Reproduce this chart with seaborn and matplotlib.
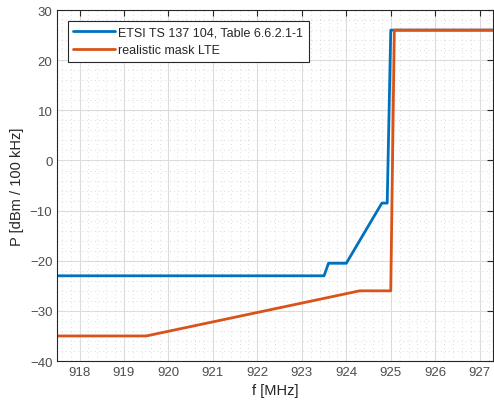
import numpy as np
import pandas as pd
import matplotlib
matplotlib.use("Agg")
import matplotlib.pyplot as plt
from matplotlib.ticker import MultipleLocator
import seaborn as sns

# ETSI TS 137 104 mask (blue)
etsi_f = [917.5, 923.5, 923.6, 924.0, 924.8, 924.92, 925.0, 927.3]
etsi_p = [-23.0, -23.0, -20.5, -20.5, -8.5, -8.5, 26.0, 26.0]

# realistic LTE mask (orange)
lte_f = [917.5, 919.5, 924.3, 925.0, 925.08, 927.3]
lte_p = [-35.0, -35.0, -26.0, -26.0, 26.0, 26.0]

labels = ["ETSI TS 137 104, Table 6.6.2.1-1", "realistic mask LTE"]
colors = ["#0072BD", "#D95319"]

df = pd.concat([
    pd.DataFrame({"f": etsi_f, "P": etsi_p, "mask": labels[0]}),
    pd.DataFrame({"f": lte_f, "P": lte_p, "mask": labels[1]}),
], ignore_index=True)

sns.set_style("white")
plt.rcParams["font.family"] = ["Liberation Sans", "DejaVu Sans"]

fig = plt.figure(figsize=(4.94, 4.10), dpi=100)
ax = fig.add_axes([0.116, 0.117, 0.882, 0.856])

sns.lineplot(data=df, x="f", y="P", hue="mask", palette=colors, sort=False,
             estimator=None, linewidth=2.0, ax=ax)

ax.set_xlim(917.5, 927.3)
ax.set_ylim(-40, 30)
ax.xaxis.set_major_locator(MultipleLocator(1))
ax.xaxis.set_minor_locator(MultipleLocator(0.2))
ax.yaxis.set_major_locator(MultipleLocator(10))
ax.yaxis.set_minor_locator(MultipleLocator(2))

ax.grid(which="major", color="#dcdcdc", linewidth=0.8)
ax.grid(which="minor", color="#cfcfcf", linewidth=0.6, linestyle=(0, (1, 4)))
ax.set_axisbelow(True)

for s in ax.spines.values():
    s.set_color("#262626")
    s.set_linewidth(0.8)
ax.tick_params(which="major", direction="in", length=4, top=True, right=True,
               colors="#262626", labelsize=9.5, labelcolor="#4d4d4d")
ax.tick_params(which="minor", length=0)

ax.set_xlabel("f [MHz]", fontsize=10.5, color="#262626")
ax.set_ylabel("P [dBm / 100 kHz]", fontsize=10.5, color="#262626")

leg = ax.legend(loc="upper left", bbox_to_anchor=(0.025, 0.969), fontsize=9,
                frameon=True, fancybox=False, borderaxespad=0, handlelength=3.3,
                handletextpad=0.3, labelspacing=0.5, borderpad=0.42)
leg.get_frame().set_edgecolor("#262626")
leg.get_frame().set_linewidth(0.8)
leg.get_frame().set_alpha(1)

fig.savefig("out.png", dpi=100)
